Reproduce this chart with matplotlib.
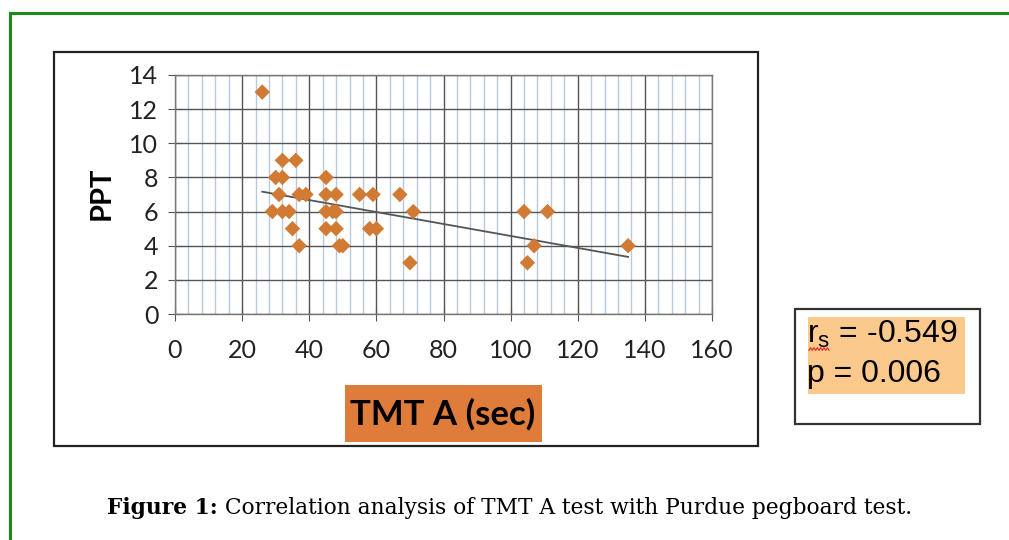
import numpy as np
import matplotlib
matplotlib.use("Agg")
import matplotlib.pyplot as plt
from matplotlib.patches import Rectangle
from matplotlib.lines import Line2D

# ---- data ----
tmt_a = [26, 32, 36, 30, 32, 45, 31, 37, 39, 45, 48, 55, 59, 67,
         29, 32, 34, 45, 47, 48, 71, 104, 111,
         35, 45, 48, 58, 60, 37, 49, 50, 107, 135, 70, 105]
ppt = [13, 9, 9, 8, 8, 8, 7, 7, 7, 7, 7, 7, 7, 7,
       6, 6, 6, 6, 6, 6, 6, 6, 6,
       5, 5, 5, 5, 5, 4, 4, 4, 4, 4, 3, 3]
x_ticks = [0, 20, 40, 60, 80, 100, 120, 140, 160]
y_ticks = [0, 2, 4, 6, 8, 10, 12, 14]
rs_text = "-0.549"
p_text = "0.006"
caption_bold = "Figure 1:"
caption_rest = " Correlation analysis of TMT A test with Purdue pegboard test."

W, H = 1009, 540
fig = plt.figure(figsize=(W / 100, H / 100), dpi=100)
fig.patch.set_facecolor("white")

def fx(px):
    return px / W

def fy(py):
    return 1 - py / H

# green page frame
green = "#1b8a1b"
fig.add_artist(Line2D([fx(10), 1.0], [fy(13), fy(13)], color=green, lw=2.2,
                      transform=fig.transFigure))
fig.add_artist(Line2D([fx(10), fx(10)], [fy(13), 0.0], color=green, lw=2.2,
                      transform=fig.transFigure))

# chart outer box
fig.add_artist(Rectangle((fx(54), fy(446)), fx(758) - fx(54), fy(52) - fy(446),
                         transform=fig.transFigure, fill=False,
                         edgecolor="#222222", lw=1.6))

# stats box
fig.add_artist(Rectangle((fx(795), fy(424)), fx(980) - fx(795), fy(309) - fy(424),
                         transform=fig.transFigure, fill=False,
                         edgecolor="#333333", lw=1.6))
fig.add_artist(Rectangle((fx(808), fy(394)), fx(965) - fx(808), fy(317) - fy(394),
                         transform=fig.transFigure, facecolor="#fbc98b",
                         edgecolor="none"))
fig.text(fx(807), fy(334), r"r$_\mathregular{s}$ = " + rs_text, fontsize=23,
         family="Liberation Sans", va="center", ha="left")
fig.text(fx(807), fy(374), "p = " + p_text, fontsize=23,
         family="Liberation Sans", va="center", ha="left")
# spell-check squiggle under the "r"
sq_x = np.linspace(809, 829, 13)
sq_y = 349 + 1.3 * np.array([(-1) ** i for i in range(13)])
fig.add_artist(Line2D(fx(sq_x), fy(sq_y), color="#e03030", lw=0.9,
                      transform=fig.transFigure))

# plot axes
ax = fig.add_axes([fx(175), fy(314), fx(712) - fx(175), fy(75) - fy(314)])
ax.set_xlim(0, 160)
ax.set_ylim(0, 14)
ax.set_xticks(x_ticks)
ax.set_yticks(y_ticks)
ax.set_xticks(np.arange(0, 161, 4), minor=True)
ax.grid(True, which="major", color="#555555", lw=1.0)
ax.grid(True, which="minor", axis="x", color="#b9c9dd", lw=1.0)
ax.set_axisbelow(True)
for s in ax.spines.values():
    s.set_color("#777777")
    s.set_linewidth(1.0)
ax.tick_params(axis="both", which="major", direction="inout", length=10,
               color="#555555", labelsize=18, labelcolor="#222222")
ax.tick_params(axis="x", which="major", pad=13)
ax.tick_params(axis="y", which="major", pad=7)
ax.tick_params(axis="x", which="minor", length=0)
for lab in ax.get_xticklabels() + ax.get_yticklabels():
    lab.set_family("Lato")

ax.scatter(tmt_a, ppt, marker="D", s=62, color="#d07a33", edgecolors="none",
           zorder=3)

# linear trend line
xa = np.array(tmt_a, dtype=float)
ya = np.array(ppt, dtype=float)
m, b = np.polyfit(xa, ya, 1)
xl = np.array([xa.min(), xa.max()])
ax.plot(xl, m * xl + b, color="#555555", lw=1.3, zorder=2)

# axis labels
fig.text(fx(102), fy(193), "PPT", rotation=90, fontsize=21, fontweight="bold",
         family="Lato", ha="center", va="center")
fig.add_artist(Rectangle((fx(345), fy(442)), fx(542) - fx(345), fy(385) - fy(442),
                         transform=fig.transFigure, facecolor="#df7c3a",
                         edgecolor="none"))
fig.text(fx(443), fy(414), "TMT A (sec)", fontsize=25, fontweight="bold",
         family="Lato", ha="center", va="center")

# caption: bold part followed by regular part, scaled to span 107..918 px
renderer = fig.canvas.get_renderer()
cap_size = 15.0
t1 = fig.text(fx(107), fy(508), caption_bold, fontsize=cap_size, fontweight="bold",
              family="DejaVu Serif", ha="left", va="center")
t2 = fig.text(0, fy(508), caption_rest, fontsize=cap_size,
              family="DejaVu Serif", ha="left", va="center")
w1 = t1.get_window_extent(renderer).width
w2 = t2.get_window_extent(renderer).width
scale = (918 - 107) / (w1 + w2)
cap_size *= scale
t1.set_fontsize(cap_size)
t2.set_fontsize(cap_size)
w1 = t1.get_window_extent(renderer).width
t2.set_x(fx(107 + w1))

fig.savefig("out.png", dpi=100)
